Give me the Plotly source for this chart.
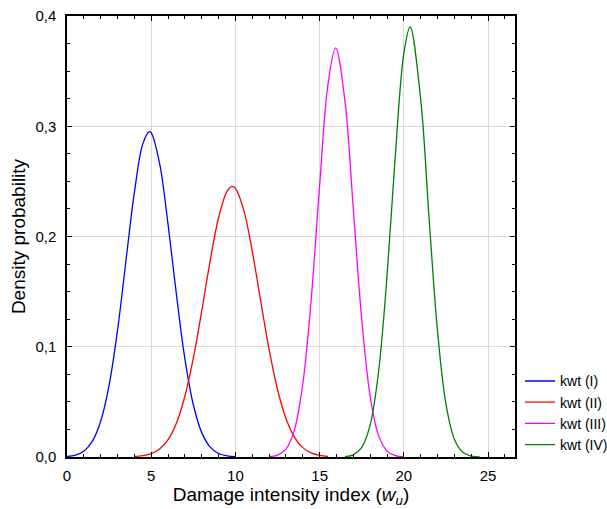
import plotly.graph_objects as go

# Series values
x_I = [0, 0.5, 1.0, 1.5, 2.0, 2.5, 3.0, 3.5, 4.0, 4.5, 4.88, 5.0, 5.5, 6.0, 6.5, 7.0, 7.5, 8.0, 8.5, 9.0, 9.5, 10.0]
y_I = [0.0005, 0.0018, 0.0053, 0.0141, 0.0324, 0.0652, 0.115, 0.178, 0.240, 0.284, 0.295, 0.294, 0.266, 0.211, 0.147, 0.089, 0.0474, 0.0221, 0.0090, 0.0032, 0.0010, 0.0003]

x_II = [4.0, 4.5, 5.0, 5.5, 6.0, 6.5, 7.0, 7.5, 8.0, 8.5, 9.0, 9.5, 9.8, 10.0, 10.5, 11.0, 11.5, 12.0, 12.5, 13.0, 13.5, 14.0, 14.5, 15.0, 15.5]
y_II = [0.0004, 0.0012, 0.0030, 0.0072, 0.0157, 0.0308, 0.0551, 0.0896, 0.1325, 0.178, 0.217, 0.241, 0.2455, 0.2436, 0.2237, 0.1866, 0.1416, 0.0976, 0.0612, 0.0349, 0.0181, 0.0085, 0.0037, 0.0014, 0.0005]

x_III = [12.0, 12.5, 13.0, 13.5, 14.0, 14.5, 15.0, 15.5, 15.95, 16.5, 17.0, 17.5, 18.0, 18.5, 19.0, 19.5, 20.0]
y_III = [0.0003, 0.0017, 0.0072, 0.0244, 0.0662, 0.143, 0.2464, 0.3385, 0.371, 0.3234, 0.225, 0.1248, 0.0552, 0.0194, 0.0055, 0.0012, 0.0002]

x_IV = [16.5, 17.0, 17.5, 18.0, 18.5, 19.0, 19.5, 20.0, 20.37, 21.0, 21.5, 22.0, 22.5, 23.0, 23.5, 24.0, 24.5]
y_IV = [0.0004, 0.0020, 0.0087, 0.0291, 0.0775, 0.1638, 0.2749, 0.3661, 0.390, 0.3246, 0.2161, 0.1142, 0.0479, 0.0160, 0.0042, 0.0009, 0.0002]

names = ["kwt (I)", "kwt (II)", "kwt (III)", "kwt (IV)"]
colors = ["#0000ff", "#ff0000", "#ff00ff", "#008000"]
series = [(x_I, y_I), (x_II, y_II), (x_III, y_III), (x_IV, y_IV)]

x_ticks = [0, 5, 10, 15, 20, 25]
y_ticks = [0.0, 0.1, 0.2, 0.3, 0.4]

FONT = "Liberation Sans, Arial, sans-serif"

fig = go.Figure()
for (xs, ys), n, c in zip(series, names, colors):
    fig.add_trace(go.Scatter(x=xs, y=ys, mode="lines", name=n,
                             line=dict(color=c, width=1.3, shape="spline", smoothing=1.0)))

axis_common = dict(
    showline=True, linecolor="black", linewidth=1.5, mirror="ticks",
    ticks="inside", ticklen=5, tickcolor="black", tickwidth=1,
    showgrid=True, gridcolor="#d9d9d9", gridwidth=1, zeroline=False,
    automargin=False,
    tickfont=dict(family=FONT, size=15, color="black"),
)

fig.update_layout(
    width=607, height=509,
    margin=dict(l=67, r=92, t=16, b=52, autoexpand=False),
    paper_bgcolor="white", plot_bgcolor="white",
    separators=", ",
    font=dict(family=FONT, color="black"),
    xaxis=dict(range=[0, 26.6], tickvals=x_ticks, ticklabelstandoff=4,
               minor=dict(dtick=1, ticks="inside", ticklen=3, tickcolor="black", showgrid=False),
               title=dict(text="Damage intensity index (<i>w<sub>u</sub></i>)",
                          font=dict(family=FONT, size=19), standoff=4),
               **axis_common),
    yaxis=dict(range=[0, 0.4], tickvals=y_ticks, tickformat=".1f", ticklabelstandoff=6,
               minor=dict(dtick=0.025, ticks="inside", ticklen=3, tickcolor="black", showgrid=False),
               title=dict(text="Density probability", font=dict(family=FONT, size=19), standoff=5),
               **axis_common),
    legend=dict(xref="container", yref="container", x=0.8567, xanchor="left",
                y=0.2821, yanchor="top",
                font=dict(family=FONT, size=14), bgcolor="rgba(0,0,0,0)", borderwidth=0,
                tracegroupgap=0, itemwidth=30),
    showlegend=True,
)

fig.write_html("out.html", config={"displayModeBar": False},
               post_script="document.body.style.margin='0';")
